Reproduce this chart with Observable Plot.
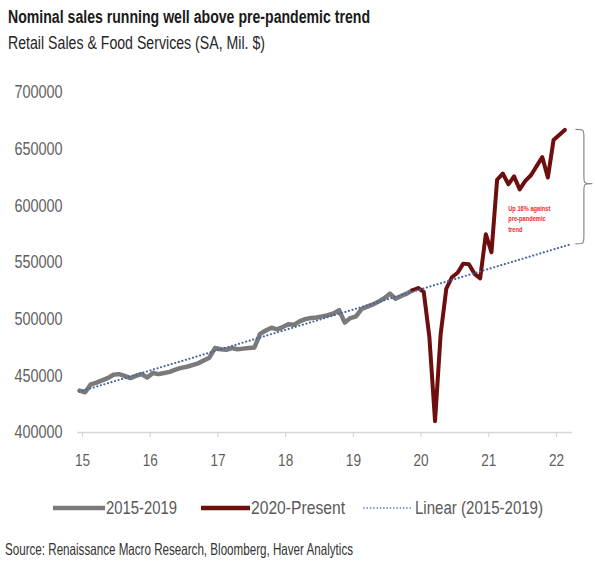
<!DOCTYPE html>
<html><head><meta charset="utf-8">
<script src="https://cdn.jsdelivr.net/npm/d3@7"></script>
<script src="https://cdn.jsdelivr.net/npm/@observablehq/plot@0.6"></script>
<style>
body{margin:0;background:#fff;}
#wrap{position:relative;width:595px;height:561px;overflow:hidden;font-family:"Liberation Sans",Arial,sans-serif;}
.abs{position:absolute;white-space:nowrap;line-height:1;transform-origin:0 0;}
</style></head><body>
<div id="wrap">
  <div class="abs fit" data-w="362" style="left:8px;top:7.7px;font-size:18px;font-weight:bold;color:#1a1a1a">Nominal sales running well above pre-pandemic trend</div>
  <div class="abs fit" data-w="257" style="left:8px;top:35px;font-size:17.5px;color:#262626">Retail Sales &amp; Food Services (SA, Mil. $)</div>
  <div id="chart" style="position:absolute;left:0;top:62px"></div>
  <div id="legend"></div>
  <div class="abs fit" data-w="348" style="left:5px;top:541px;font-size:16.5px;color:#333">Source: Renaissance Macro Research, Bloomberg, Haver Analytics</div>
</div>
<script>
// ---- data ----
const startYear = 15; // 2015
const grayValues = [
  437000, 435500, 442500, 444000, 446000, 448000, 451000, 451500, 450000, 448000, 450000, 451500,
  448500, 452500, 451500, 452500, 453500, 455500, 457000, 458000, 459500, 461000, 463500, 466000,
  474500, 473500, 473000, 474500, 473500, 474000, 474500, 475000, 487000, 490000, 492500, 491000,
  493000, 495500, 495000, 498000, 500000, 501000, 501500, 502500, 503500, 505000, 508000, 497000,
  501000, 502500, 509000, 511000, 513000, 515500, 518500, 522500, 518000, 520500, 522500, 525500
];
// Dec 2019 .. Mar 2022
const redStartYear = 19 + 11/12;
const redValues = [
  525500,
  527500, 524000, 484000, 410000, 487000, 527000, 537000, 541000, 549000, 548500, 540000, 536000,
  575000, 559000, 623000, 628500, 619000, 626000, 614500, 622000, 627000, 635000, 643000, 625000,
  658000, 662500, 667000
];
const trendX = [15, 22.25];
const trendY = [436000, 566000];
const yTicks = [400000, 450000, 500000, 550000, 600000, 650000, 700000];
const xTicks = [15, 16, 17, 18, 19, 20, 21, 22];
const noteText = "Up 16% against\npre-pandemic\ntrend";
const noteX = 21.33, noteY = 602000;
const braceX = 22.33, braceTop = 667000, braceBottom = 566000;
const legendItems = [
  {label: "2015-2019", color: "#7a7a7a", dash: null},
  {label: "2020-Present", color: "#6d0f0f", dash: null},
  {label: "Linear (2015-2019)", color: "#45679c", dash: "0.1,3.2"}
];

const gray = grayValues.map((v, i) => ({x: startYear + i/12, y: v}));
const red = redValues.map((v, i) => ({x: redStartYear + i/12, y: v}));
const trend = trendX.map((x, i) => ({x, y: trendY[i]}));

const FONT = '"Liberation Sans",Arial,sans-serif';

function brace(index, scales) {
  const x0 = scales.x(braceX), yT = scales.y(braceTop), yB = scales.y(braceBottom);
  const w = 17, h = w / 2, ym = (yT + yB) / 2 - 3, r = 8;
  const p = `M${x0},${yT} C${x0+h},${yT} ${x0+h},${yT} ${x0+h},${yT+r} L${x0+h},${ym-r} C${x0+h},${ym} ${x0+h},${ym} ${x0+w},${ym} C${x0+h},${ym} ${x0+h},${ym} ${x0+h},${ym+r} L${x0+h},${yB-r} C${x0+h},${yB} ${x0+h},${yB} ${x0},${yB}`;
  const path = d3.create("svg:path").attr("d", p).attr("fill", "none").attr("stroke", "#8a8a8a").attr("stroke-width", 1.2);
  return path.node();
}

const chart = Plot.plot({
  width: 595,
  height: 420,
  marginLeft: 77,
  marginRight: 23,
  marginTop: 30,
  marginBottom: 50,
  style: {fontFamily: FONT, overflow: "visible", background: "transparent"},
  x: {domain: [14.97, 22.28], label: null},
  y: {domain: [400000, 700000], label: null},
  marks: [
    Plot.ruleY([400000], {stroke: "#d6d6d6", strokeWidth: 1.3}),
    Plot.axisY(yTicks, {tickSize: 0, tickPadding: 15, fontSize: 18, color: "#5f5f5f", tickFormat: d => String(d), label: null}),
    Plot.axisX(xTicks, {tickSize: 5, tickPadding: 16, fontSize: 17, stroke: "#d0d0d0", color: "#5f5f5f", dx: 3, tickFormat: d => String(d), label: null}),
    Plot.line(gray, {x: "x", y: "y", stroke: "#7a7a7a", strokeWidth: 4.5, strokeLinejoin: "round", strokeLinecap: "round"}),
    Plot.line(red, {x: "x", y: "y", stroke: "#6d0f0f", strokeWidth: 4, strokeLinejoin: "round", strokeLinecap: "round"}),
    Plot.line(trend, {x: "x", y: "y", stroke: "#45679c", strokeWidth: 2.1, strokeDasharray: "0.1,3.6", strokeLinecap: "round"}),
    Plot.text([noteText], {x: noteX, y: noteY, text: d => d, fill: "#f0282a", fontSize: 6.5, fontWeight: "bold", textAnchor: "start", lineAnchor: "top", lineHeight: 1.6}),
    brace
  ]
});
document.getElementById("chart").appendChild(chart);

// condense axis labels (narrow face like the original)
chart.querySelectorAll('g[aria-label="y-axis tick label"] text, g[aria-label="x-axis tick label"] text').forEach(t => {
  const w = t.getComputedTextLength();
  t.setAttribute("textLength", (w * 0.8).toFixed(2));
  t.setAttribute("lengthAdjust", "spacingAndGlyphs");
});
// keep note width like the original
chart.querySelectorAll('g[aria-label="text"] tspan').forEach(t => {
  const w = t.getComputedTextLength();
  t.setAttribute("textLength", (w * 0.88).toFixed(2));
  t.setAttribute("lengthAdjust", "spacingAndGlyphs");
});

// legend
const legend = document.getElementById("legend");
const pos = [{lx: 52, lw: 53, tx: 106, tw: 71}, {lx: 200, lw: 50, tx: 251, tw: 94}, {lx: 363, lw: 49, tx: 415, tw: 128}];
legendItems.forEach((it, i) => {
  const p = pos[i];
  const svg = d3.create("svg").attr("width", p.lw).attr("height", 8)
    .style("position", "absolute").style("left", p.lx + "px").style("top", "504px");
  svg.append("line").attr("x1", 1).attr("x2", p.lw).attr("y1", 4).attr("y2", 4)
    .attr("stroke", it.color).attr("stroke-width", it.dash ? 1.6 : 4.5)
    .attr("stroke-linecap", it.dash ? "round" : "butt")
    .attr("stroke-dasharray", it.dash);
  legend.appendChild(svg.node());
  const t = document.createElement("div");
  t.className = "abs fit";
  t.dataset.w = p.tw;
  t.style.left = p.tx + "px";
  t.style.top = "498px";
  t.style.fontSize = "19px";
  t.style.color = "#595959";
  t.textContent = it.label;
  legend.appendChild(t);
});

// fit HTML texts to the original's narrow widths
document.querySelectorAll(".fit").forEach(el => {
  const w = el.getBoundingClientRect().width;
  const target = +el.dataset.w;
  el.style.transform = `scaleX(${(target / w).toFixed(4)})`;
});
</script>
</body></html>
